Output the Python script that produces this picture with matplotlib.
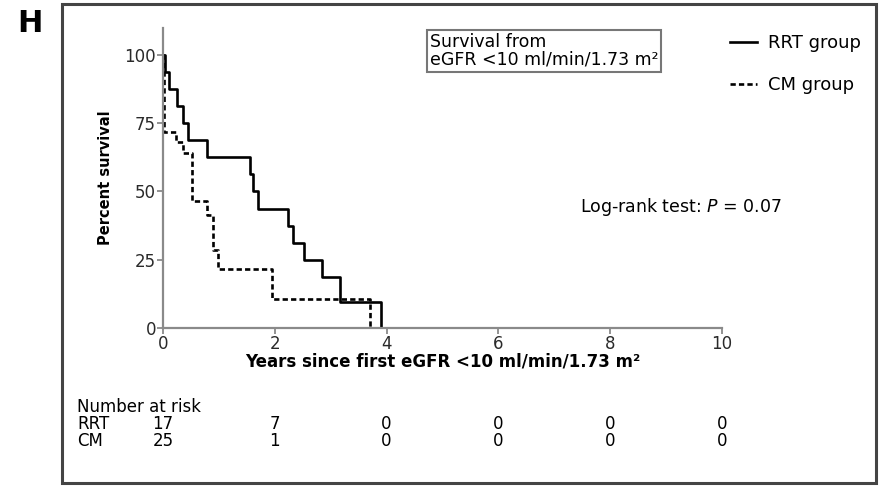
import matplotlib
matplotlib.use("Agg")
import matplotlib.pyplot as plt
import matplotlib.transforms as mtransforms
from matplotlib.patches import Rectangle
from matplotlib.lines import Line2D

# Kaplan-Meier curves (years, percent survival)
rrt_years = [0, 0.04, 0.10, 0.25, 0.36, 0.44, 0.79, 1.55, 1.61, 1.70,
             2.24, 2.33, 2.53, 2.84, 3.17, 3.90]
rrt_surv = [100, 93.75, 87.5, 81.25, 75, 68.75, 62.5, 56.25, 50, 43.75,
            37.5, 31.25, 25, 18.75, 9.4, 0]

cm_years = [0, 0.02, 0.24, 0.36, 0.52, 0.79, 0.89, 0.98, 1.95, 3.70]
cm_surv = [100, 72, 68, 64, 46.4, 41.5, 28.6, 21.4, 10.7, 0]

# number at risk table
risk_years = [0, 2, 4, 6, 8, 10]
rrt_risk = [17, 7, 0, 0, 0, 0]
cm_risk = [25, 1, 0, 0, 0, 0]

W, H = 881, 487
fig = plt.figure(figsize=(W / 100, H / 100), dpi=100)
ax = fig.add_axes([163 / W, (H - 327.7) / H, 559 / W, 299.7 / H])

dash = (0, (2.0, 1.2))
ax.step(rrt_years + [rrt_years[-1]], rrt_surv + [0], where="post",
        color="black", lw=1.9, label="RRT group")
ax.step(cm_years + [cm_years[-1]], cm_surv + [0], where="post",
        color="black", lw=1.9, linestyle=dash, label="CM group")

ax.set_xlim(0, 10)
ax.set_ylim(0, 110)
ax.set_xticks([0, 2, 4, 6, 8, 10])
ax.set_yticks([0, 25, 50, 75, 100])
for s in ["top", "right"]:
    ax.spines[s].set_visible(False)
for s in ["left", "bottom"]:
    ax.spines[s].set_color("#8a8a8a")
    ax.spines[s].set_linewidth(1.6)
ax.tick_params(colors="#8a8a8a", labelcolor="#2a2a2a", labelsize=12,
               length=4, width=1.3, pad=1)
ax.set_xlabel("Years since first eGFR <10 ml/min/1.73 m²", fontsize=12,
              fontweight="bold", labelpad=0)
ax.set_ylabel("Percent survival", fontsize=10.5, fontweight="bold", labelpad=8)

# annotation box and log-rank text
fig.text(430 / W, 1 - 51 / H, "Survival from\neGFR <10 ml/min/1.73 m²",
         fontsize=12.5, linespacing=1.0, va="center", ha="left",
         bbox=dict(boxstyle="square,pad=0.15", fc="white", ec="#777777", lw=1.5))
fig.text(580 / W, 1 - 207 / H, "Log-rank test: $\\it{P}$ = 0.07",
         fontsize=12.5, va="center", ha="left")

# legend
handles = [Line2D([], [], color="black", lw=1.9),
           Line2D([], [], color="black", lw=1.9, linestyle=dash)]
fig.legend(handles, ["RRT group", "CM group"], loc="upper left",
           bbox_to_anchor=(730 / W, 1 - 34 / H), frameon=False, fontsize=13,
           handlelength=1.5, handletextpad=0.6, labelspacing=1.35,
           borderpad=0, borderaxespad=0)

# number at risk
trans = mtransforms.blended_transform_factory(ax.transData, fig.transFigure)
fig.text(77 / W, 1 - 407 / H, "Number at risk", fontsize=12, va="center")
fig.text(77 / W, 1 - 424 / H, "RRT", fontsize=12, va="center")
fig.text(77 / W, 1 - 441 / H, "CM", fontsize=12, va="center")
for yr, a, b in zip(risk_years, rrt_risk, cm_risk):
    ax.text(yr, 1 - 424 / H, str(a), transform=trans, fontsize=12,
            ha="center", va="center")
    ax.text(yr, 1 - 441 / H, str(b), transform=trans, fontsize=12,
            ha="center", va="center")

# panel letter and outer frame
fig.text(30 / W, 1 - 24 / H, "H", fontsize=22, fontweight="bold",
         ha="center", va="center")
fig.patches.append(Rectangle((62 / W, 4 / H), (876 - 62) / W, (483 - 4) / H,
                             transform=fig.transFigure, fill=False,
                             lw=2.2, ec="#444444"))

fig.savefig("out.png", dpi=100)
